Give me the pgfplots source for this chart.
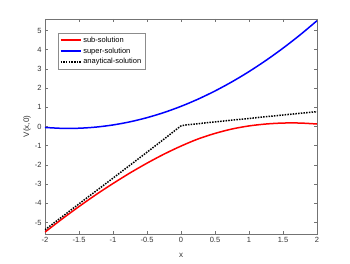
\documentclass[border=0pt]{standalone}
\usepackage{pgfplots}
\pgfplotsset{compat=1.18}
\usepackage{fontspec}
\setmainfont{Liberation Sans}
\begin{document}
\begin{tikzpicture}
\useasboundingbox (-45pt,-29pt) rectangle (305pt,234pt);
\begin{axis}[
  scale only axis, width=272pt, height=215pt,
  xmin=-2, xmax=2, ymin=-5.6, ymax=5.6,
  xtick={-2,-1.5,...,2}, ytick={-5,-4,...,5},
  xticklabels={-2,-1.5,-1,-0.5,0,0.5,1,1.5,2},
  yticklabels={-5,-4,-3,-2,-1,0,1,2,3,4,5},
  tick align=inside, major tick length=3pt,
  axis line style={black!55, line width=0.5pt},
  every tick/.style={black!55, line width=0.5pt},
  tick label style={font=\fontsize{7.5}{8}\selectfont, text=black!80},
  xlabel={x}, ylabel={V(x,0)},
  label style={font=\fontsize{8}{9}\selectfont, text=black!80},
  xlabel style={at={(axis description cs:0.5,-0.1)}, anchor=center},
  ylabel style={at={(axis description cs:-0.066,0.5)}, anchor=center},
  legend style={at={(rel axis cs:0.048,0.935)}, anchor=north west,
    draw=black!45, font=\fontsize{7.5}{8.5}\selectfont,
    inner sep=1.5pt, cells={anchor=west}},
  legend image code/.code={\draw[#1, line cap=butt] (0pt,0pt) -- (20pt,0pt);},
]
\addplot[red, line width=1.5pt, smooth] coordinates {
(-2,-5.5) (-1.75,-4.82) (-1.5,-4.17) (-1.25,-3.55) (-1,-2.97) (-0.75,-2.42)
(-0.5,-1.91) (-0.25,-1.44) (0,-1.02) (0.25,-0.65) (0.5,-0.36) (0.75,-0.13)
(1,0.03) (1.25,0.13) (1.5,0.18) (1.75,0.18) (2,0.13)};
\addlegendentry{sub-solution}
\addplot[blue, line width=1.5pt, smooth] coordinates {
(-2,-0.05) (-1.75,-0.096) (-1.5,-0.09) (-1.25,-0.031) (-1,0.08) (-0.75,0.244)
(-0.5,0.46) (-0.25,0.729) (0,1.05) (0.25,1.424) (0.5,1.85) (0.75,2.329)
(1,2.86) (1.25,3.444) (1.5,4.08) (1.75,4.769) (2,5.51)};
\addlegendentry{super-solution}
\addplot[black, line width=1.5pt, dash pattern=on 1.5pt off 1.2pt] coordinates {
(-2,-5.38) (-1.5,-4.03) (-1,-2.69) (-0.5,-1.34) (-0.2,-0.52) (-0.1,-0.24)
(-0.05,-0.1) (0,0.03) (0.05,0.07) (0.1,0.09) (0.5,0.24) (1,0.42) (1.5,0.6) (2,0.77)};
\addlegendentry{anaytical-solution}
\end{axis}
\end{tikzpicture}
\end{document}
